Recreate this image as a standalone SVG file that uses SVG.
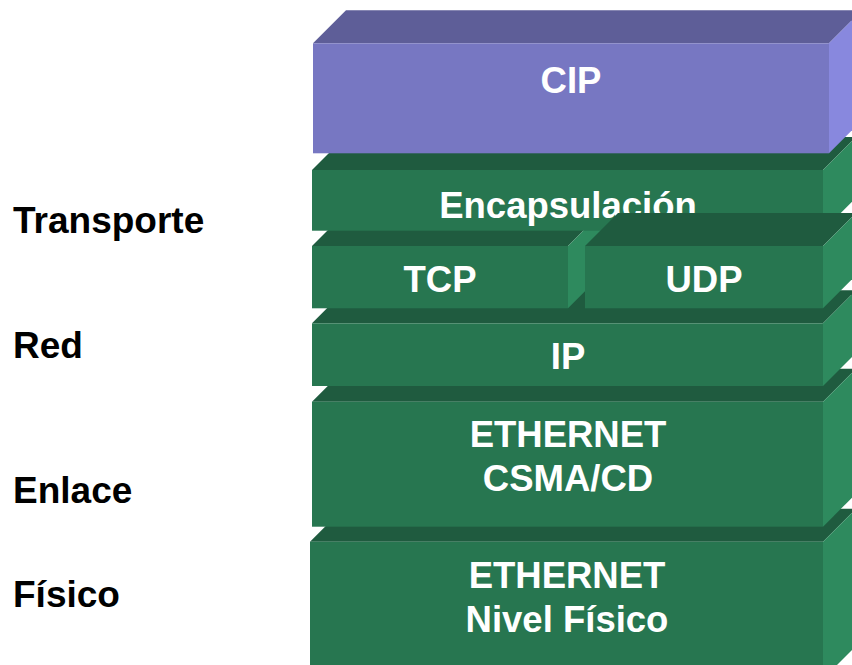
<svg xmlns="http://www.w3.org/2000/svg" width="852" height="665" viewBox="0 0 852 665">
  <style>
    .front { fill: #277650; }
    .top { fill: #1f5b3f; }
    .side { fill: #2e8a5e; }
    .cip-front { fill: #7777c2; }
    .cip-top { fill: #5e5e98; }
    .cip-side { fill: #8888de; }
    .box-text { font-family: "Liberation Sans", Arial, sans-serif; font-weight: bold; font-size: 36.5px; fill: #ffffff; text-anchor: middle; }
    .layer-label { font-family: "Liberation Sans", Arial, sans-serif; font-weight: bold; font-size: 37px; fill: #000000; }
  </style>
  <rect width="852" height="665" fill="#ffffff"/>

  <!-- layer names on the left -->
  <g id="labels">
    <text class="layer-label" x="13" y="233">Transporte</text>
    <text class="layer-label" x="13" y="358">Red</text>
    <text class="layer-label" x="13" y="503">Enlace</text>
    <text class="layer-label" x="13" y="607">Físico</text>
  </g>

  <!-- stacked protocol blocks, drawn bottom-up so upper blocks hide the tops below -->
  <g id="fisico">
    <polygon class="top" points="310,541.7 343,508.7 856,508.7 823,541.7"/>
    <polygon class="side" points="823,541.7 856,508.7 856,646 823,679"/>
    <rect class="front" x="310" y="541.7" width="513" height="140"/>
    <text class="box-text" x="567" y="588">ETHERNET</text>
    <text class="box-text" x="567" y="632">Nivel Físico</text>
  </g>

  <g id="enlace">
    <polygon class="top" points="312,401.7 345,368.7 856,368.7 823,401.7"/>
    <polygon class="side" points="823,401.7 856,368.7 856,493.7 823,526.7"/>
    <rect class="front" x="312" y="401.7" width="511" height="125"/>
    <text class="box-text" x="568" y="447">ETHERNET</text>
    <text class="box-text" x="568" y="491">CSMA/CD</text>
  </g>

  <g id="ip">
    <polygon class="top" points="312,323.3 345,290.3 856,290.3 823,323.3"/>
    <polygon class="side" points="823,323.3 856,290.3 856,353 823,386"/>
    <rect class="front" x="312" y="323.3" width="511" height="62.7"/>
    <text class="box-text" x="568" y="369">IP</text>
  </g>

  <g id="tcp">
    <polygon class="top" points="312,246 345,213 601,213 568,246"/>
    <polygon class="side" points="568,246 601,213 601,275.3 568,308.3"/>
    <rect class="front" x="312" y="246" width="256" height="62.3"/>
    <text class="box-text" x="440" y="292">TCP</text>
  </g>

  <g id="encapsulacion">
    <polygon class="top" points="312,170 345,137 856,137 823,170"/>
    <polygon class="side" points="823,170 856,137 856,197.7 823,230.7"/>
    <rect class="front" x="312" y="170" width="511" height="60.7"/>
    <text class="box-text" x="568" y="218">Encapsulación</text>
  </g>

  <g id="udp">
    <polygon class="top" points="585,246 618,213 856,213 823,246"/>
    <polygon class="side" points="823,246 856,213 856,275.3 823,308.3"/>
    <rect class="front" x="585" y="246" width="238" height="62.3"/>
    <text class="box-text" x="704" y="292">UDP</text>
  </g>

  <g id="cip">
    <polygon class="cip-top" points="313,43.3 346,10.3 862,10.3 829,43.3"/>
    <polygon class="cip-side" points="829,43.3 862,10.3 862,120.3 829,153.3"/>
    <rect class="cip-front" x="313" y="43.3" width="516" height="110"/>
    <text class="box-text" x="571" y="93">CIP</text>
  </g>

  <g id="connectors"/>
</svg>
